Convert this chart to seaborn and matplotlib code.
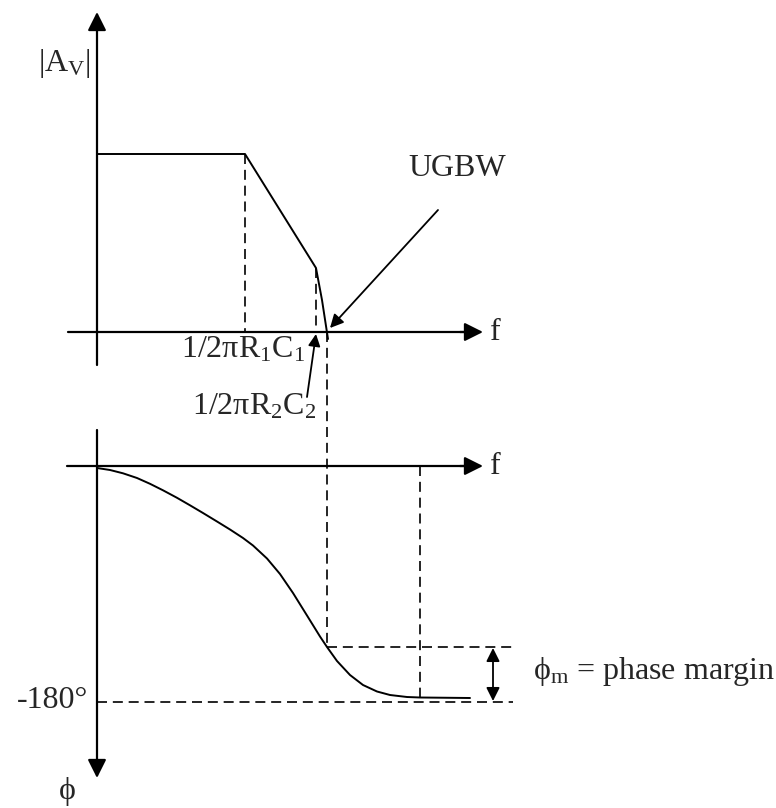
import matplotlib
matplotlib.use('Agg')
import matplotlib.pyplot as plt
import seaborn as sns

sns.set_theme(style='white')
plt.rcParams['font.family'] = ['Liberation Serif', 'DejaVu Serif']
plt.rcParams['mathtext.fontset'] = 'custom'
plt.rcParams['mathtext.rm'] = 'Liberation Serif'
plt.rcParams['mathtext.it'] = 'Liberation Serif:italic'

# ---- diagram data (diagram units, y grows downward) ----
# magnitude |Av| asymptotes: flat, first pole, second pole
gain_f = [97, 245, 316, 322, 328]
gain_y = [154, 154, 268, 300, 339]
gain_axis_y = 332
# phase curve
phase_f = [97, 110, 123, 137, 150, 163, 177, 190, 203, 217, 230, 243, 253, 267,
           280, 293, 307, 320, 327, 337, 350, 363, 377, 390, 407, 420, 470]
phase_y = [468, 470, 473.3, 478, 483.8, 490.3, 497.8, 505.3, 513, 521.5, 529.5, 538,
           545.5, 558.5, 574, 593, 615.5, 636.5, 647, 661, 675, 685, 691.5, 695,
           697, 697.5, 698]
phase_axis_y = 466
phase_180_y = 702
ugbw_f = 327
phase_at_ugbw = 647
f180 = 420
axis_x = 97
dash_end = 513

label_gain = r'$\mathrm{|A_V|}$'
label_p1 = r'$\mathrm{1/2\pi R_1C_1}$'
label_p2 = r'$\mathrm{1/2\pi R_2C_2}$'
label_ugbw = 'UGBW'
label_f = 'f'
label_180 = '-180°'
label_phi = 'ϕ'
label_pm = r'$\mathrm{\phi_m}$ = phase margin'

fig = plt.figure(figsize=(7.76, 8.08), dpi=100)
ax = fig.add_axes([0, 0, 1, 1])
ax.set_xlim(0, 776)
ax.set_ylim(808, 0)
ax.axis('off')

K = 'black'
FS = 23


def arrow(tail, head, style='-|>', lw=1.6, ms=28):
    ax.annotate('', xy=head, xytext=tail,
                arrowprops=dict(arrowstyle=style, lw=lw, color=K, mutation_scale=ms,
                                shrinkA=0, shrinkB=0))


# curves
sns.lineplot(x=gain_f, y=gain_y, sort=False, estimator=None, color=K, lw=1.4, ax=ax)
sns.lineplot(x=phase_f, y=phase_y, sort=False, estimator=None, color=K, lw=1.4, ax=ax)

# axes with arrows
arrow((axis_x, 365), (axis_x, 12))
ax.plot([68, 470], [gain_axis_y, gain_axis_y], color=K, lw=1.6)
arrow((460, gain_axis_y), (483, gain_axis_y))
ax.plot([67, 470], [phase_axis_y, phase_axis_y], color=K, lw=1.6)
arrow((460, phase_axis_y), (483, phase_axis_y))
arrow((axis_x, 430), (axis_x, 778))

# dashed guides
ds = dict(color=K, lw=1.2, linestyle=(0, (6, 3.5)))
ax.plot([gain_f[1], gain_f[1]], [gain_y[1], gain_axis_y], **ds)
ax.plot([gain_f[2], gain_f[2]], [gain_y[2], gain_axis_y], **ds)
ax.plot([ugbw_f, ugbw_f], [gain_axis_y, phase_at_ugbw], **ds)
ax.plot([ugbw_f, dash_end], [phase_at_ugbw, phase_at_ugbw], **ds)
ax.plot([axis_x, dash_end], [phase_180_y, phase_180_y], **ds)
ax.plot([f180, f180], [phase_axis_y, phase_180_y], **ds)

# pointer arrows
arrow((438, 210), (330, 328), lw=1.3, ms=20)
arrow((307, 397), (316, 334), lw=1.3, ms=18)
arrow((493, 701), (493, 648), style='<|-|>', lw=1.3, ms=20)

# labels
ax.text(64, 63, label_gain, fontsize=FS, ha='center', va='center')
ax.text(457, 168, label_ugbw, fontsize=FS, ha='center', va='center')
ax.text(490, 332, label_f, fontsize=FS, ha='left', va='center')
ax.text(490, 466, label_f, fontsize=FS, ha='left', va='center')
ax.text(243, 350, label_p1, fontsize=FS, ha='center', va='center')
ax.text(254, 407, label_p2, fontsize=FS, ha='center', va='center')
ax.text(88, 700, label_180, fontsize=FS, ha='right', va='center')
ax.text(67, 792, label_phi, fontsize=FS, ha='center', va='center')
ax.text(533, 672, label_pm, fontsize=FS, ha='left', va='center')

fig.savefig('out.png', dpi=100, facecolor='white')
